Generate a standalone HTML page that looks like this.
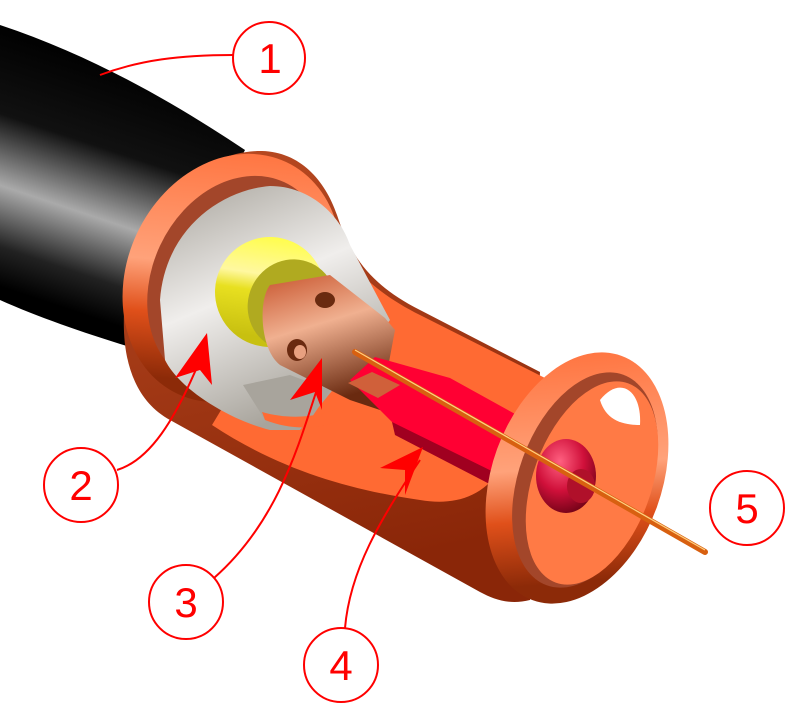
<!DOCTYPE html>
<html><head><meta charset="utf-8"><style>body{margin:0;background:#fff}svg{display:block}</style></head>
<body>
<svg width="796" height="723" viewBox="0 0 796 723" xmlns="http://www.w3.org/2000/svg">
<defs>
<linearGradient id="cab" x1="120" y1="60" x2="40" y2="300" gradientUnits="userSpaceOnUse">
<stop offset="0" stop-color="#000"/><stop offset="0.35" stop-color="#111"/><stop offset="0.62" stop-color="#aaa"/><stop offset="0.85" stop-color="#222"/><stop offset="1" stop-color="#000"/></linearGradient>
<linearGradient id="rim" x1="0" y1="0" x2="0.3" y2="1">
<stop offset="0" stop-color="#ff6a33"/><stop offset="0.55" stop-color="#ffa27a"/><stop offset="0.75" stop-color="#e0501a"/><stop offset="1" stop-color="#8c2a08"/></linearGradient>
<linearGradient id="body" x1="0" y1="0" x2="0.2" y2="1">
<stop offset="0" stop-color="#b84a22"/><stop offset="1" stop-color="#8a2608"/></linearGradient>
<linearGradient id="pin" x1="0" y1="0" x2="0.3" y2="1">
<stop offset="0" stop-color="#c8552e"/><stop offset="0.45" stop-color="#f0b090"/><stop offset="1" stop-color="#6a2a10"/></linearGradient>
<linearGradient id="yel" x1="0" y1="0" x2="0.3" y2="1">
<stop offset="0" stop-color="#ffff30"/><stop offset="0.45" stop-color="#fff8a0"/><stop offset="0.6" stop-color="#e8e020"/><stop offset="1" stop-color="#c8c010"/></linearGradient>
<linearGradient id="gr" x1="0" y1="0" x2="0.4" y2="1">
<stop offset="0" stop-color="#a8a49c"/><stop offset="0.5" stop-color="#f0eeec"/><stop offset="1" stop-color="#a8a49c"/></linearGradient>
<radialGradient id="cap" cx="0.4" cy="0.3" r="0.8"><stop offset="0" stop-color="#ff6080"/><stop offset="0.5" stop-color="#d0103a"/><stop offset="1" stop-color="#600010"/></radialGradient>
</defs>
<path d="M0,25 C90,55 170,100 245,150 L140,350 C90,335 40,318 0,300 Z" fill="url(#cab)"/>
<!-- sleeve body -->
<path d="M125,300 C130,210 200,150 262,151 C300,152 325,180 337,215 C350,255 370,285 420,310 L540,372 L530,600 C510,605 495,600 480,592 L170,420 C130,398 120,350 125,300 Z" fill="url(#body)"/>
<!-- inner cavity -->
<path d="M212,425 L330,230 C350,270 380,295 420,315 L545,378 L500,470 C480,500 450,505 420,500 C350,490 280,470 212,425 Z" fill="#ff6a33"/>
<!-- left face rim -->
<ellipse cx="232" cy="278" rx="105" ry="128" transform="rotate(25 232 278)" fill="url(#rim)"/>
<ellipse cx="238" cy="282" rx="86" ry="110" transform="rotate(25 238 282)" fill="#a3462a"/>
<path d="M160,300 C165,230 220,190 270,186 C310,186 340,215 350,245 L390,320 L300,430 L270,430 C230,420 180,390 165,360 Z" fill="url(#gr)"/>
<path d="M243,385 L290,375 L330,390 L310,420 L270,428 Z" fill="#a8a49c"/>
<path d="M262,412 C290,420 320,418 345,405 L340,420 C320,430 290,430 265,420 Z" fill="#ff6a33"/>
<ellipse cx="270" cy="292" rx="55" ry="55" transform="rotate(25 270 292)" fill="url(#yel)"/>
<ellipse cx="292" cy="305" rx="44" ry="46" transform="rotate(25 292 305)" fill="#b0aa20"/>
<path d="M270,285 L330,275 L385,318 L395,330 L380,410 L350,400 L280,365 C260,350 258,300 270,285 Z" fill="url(#pin)"/>
<ellipse cx="325" cy="300" rx="10" ry="8" fill="#6a2a10"/>
<ellipse cx="297" cy="350" rx="10" ry="11" fill="#6a2a10"/>
<ellipse cx="300" cy="352" rx="6" ry="7" fill="#e8a080"/>
<!-- red dielectric band -->
<path d="M350,380 L375,357 L450,378 L535,425 L510,480 L400,430 L390,420 Z" fill="#ff0033"/>
<path d="M392,422 L510,480 L505,492 L395,435 Z" fill="#a00020"/>
<path d="M348,383 L372,372 L400,385 L378,398 Z" fill="#d0603a"/>
<!-- right ring -->
<ellipse cx="577" cy="478" rx="85" ry="130" transform="rotate(20 577 478)" fill="url(#rim)"/>
<ellipse cx="585" cy="480" rx="66" ry="112" transform="rotate(20 585 480)" fill="#a3462a"/>
<ellipse cx="592" cy="483" rx="59" ry="106" transform="rotate(20 592 483)" fill="#ff7a45"/>
<path d="M600,400 C620,375 642,390 640,425 C622,425 606,420 600,400 Z" fill="#fff"/>
<ellipse cx="566" cy="476" rx="30" ry="37" fill="url(#cap)"/>
<ellipse cx="581" cy="486" rx="14" ry="17" fill="#b0102a"/>
<line x1="355" y1="352" x2="705" y2="552" stroke="#d86010" stroke-width="6" stroke-linecap="round"/>
<line x1="355" y1="350" x2="705" y2="550" stroke="#ffd080" stroke-width="1.2"/>
<g fill="none" stroke="#f00" stroke-width="2">
<circle cx="269" cy="58" r="36"/><circle cx="81" cy="485" r="37"/><circle cx="186" cy="602" r="37"/><circle cx="341" cy="665" r="37"/><circle cx="747" cy="508" r="37"/>
<path d="M100,75 C140,60 180,55 233,55"/>
<path d="M117,470 C150,460 175,420 200,360"/>
<path d="M214,578 C280,520 300,440 320,380"/>
<path d="M345,628 C350,570 380,520 420,460"/>
</g>
<g fill="#f00">
<path d="M207,333 L175,378 L200,370 L212,385 Z"/>
<path d="M322,358 L290,400 L315,392 L322,410 Z"/>
<path d="M423,447 L380,468 L405,470 L405,495 Z"/>
</g>
<g fill="#f00" font-family="Liberation Sans, sans-serif" font-size="42" text-anchor="middle">
<text x="270" y="73">1</text><text x="81" y="500">2</text><text x="186" y="617">3</text><text x="341" y="680">4</text><text x="747" y="523">5</text>
</g>
</svg>
</body></html>
